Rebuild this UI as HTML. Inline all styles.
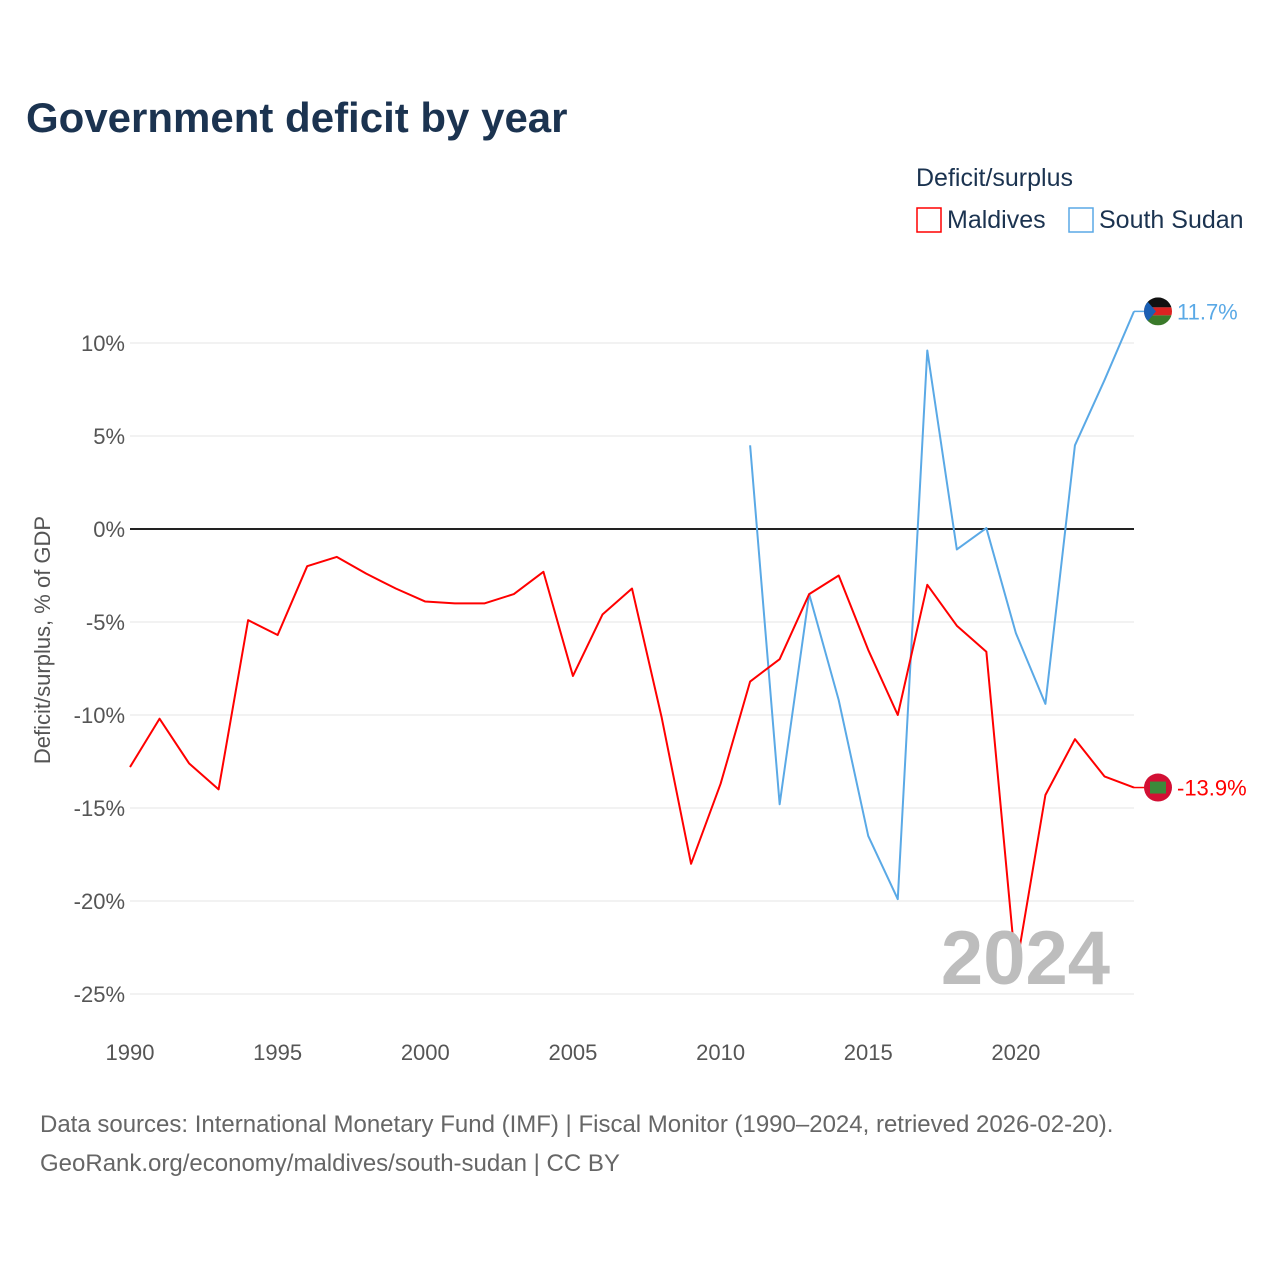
<!DOCTYPE html>
<html><head><meta charset="utf-8"><style>
body{margin:0;background:#fff;font-family:"Liberation Sans",sans-serif;}
svg text{font-family:"Liberation Sans",sans-serif;}
</style></head><body>
<svg width="1280" height="1280" xmlns="http://www.w3.org/2000/svg" id="chart">
<text x="26" y="132" font-size="42" font-weight="bold" fill="#1b3350">Government deficit by year</text>
<text x="916" y="186" font-size="25" fill="#1b3350">Deficit/surplus</text>
<g><rect x="917" y="208" width="24" height="24" fill="none" stroke="#ff0000" stroke-width="1.5"/><text x="947" y="228" font-size="25" fill="#1b3350">Maldives</text></g>
<g><rect x="1069" y="208" width="24" height="24" fill="none" stroke="#5aa9e6" stroke-width="1.5"/><text x="1099" y="228" font-size="25" fill="#1b3350">South Sudan</text></g>
<g id="grid"></g><g id="lines"></g>
<text x="1110" y="984" font-size="76" font-weight="bold" fill="#bdbdbd" text-anchor="end">2024</text>
<text transform="translate(50,640) rotate(-90)" font-size="22" fill="#555" text-anchor="middle">Deficit/surplus, % of GDP</text>
<text x="40" y="1132" font-size="24" fill="#666">Data sources: International Monetary Fund (IMF) | Fiscal Monitor (1990–2024, retrieved 2026-02-20).</text>
<text x="40" y="1171" font-size="24" fill="#666">GeoRank.org/economy/maldives/south-sudan | CC BY</text>
</svg>
<script>
const years=[];for(let y=1990;y<=2024;y++)years.push(y);
const maldives=[-12.8,-10.2,-12.6,-14.0,-4.9,-5.7,-2.0,-1.5,-2.4,-3.2,-3.9,-4.0,-4.0,-3.5,-2.3,-7.9,-4.6,-3.2,-10.1,-18.0,-13.7,-8.2,-7.0,-3.5,-2.5,-6.5,-10.0,-3.0,-5.2,-6.6,-23.7,-14.3,-11.3,-13.3,-13.9];
const ssYears=[2011,2012,2013,2014,2015,2016,2017,2018,2019,2020,2021,2022,2023,2024];
const southSudan=[4.5,-14.8,-3.5,-9.2,-16.5,-19.9,9.6,-1.1,0.05,-5.6,-9.4,4.5,8.0,11.7];
const yTicks=[10,5,0,-5,-10,-15,-20,-25];
const xTicks=[1990,1995,2000,2005,2010,2015,2020];
const NS="http://www.w3.org/2000/svg";
const X=y=>130+(y-1990)*(1134-130)/34;
const Y=v=>529-v*18.6;
const g=document.getElementById('grid'),L=document.getElementById('lines');
function mk(t,a,p){const e=document.createElementNS(NS,t);for(const k in a)e.setAttribute(k,a[k]);p.appendChild(e);return e;}
yTicks.forEach(v=>{
 const l=mk('line',{x1:130,x2:1134,y1:Y(v),y2:Y(v),stroke:v===0?'#222':'#e6e6e6','stroke-width':v===0?2:1},g);
 
 
 const t=mk('text',{x:125,y:Y(v)+8,'font-size':22,fill:'#555','text-anchor':'end'},g);t.textContent=v+'%';
 
 
});
xTicks.forEach(y=>{
 const t=mk('text',{x:X(y),y:1060,'font-size':22,fill:'#555','text-anchor':'middle'},g);t.textContent=y;
 
 
});
function line(xs,vs,c,name){
 const p=mk('polyline',{points:xs.map((x,i)=>X(x)+','+Y(vs[i])).join(' '),fill:'none',stroke:c,'stroke-width':2,'stroke-linejoin':'round'},L);
 
 
}
line(ssYears,southSudan,'#5aa9e6','south-sudan-line');
line(years,maldives,'#ff0000','maldives-line');
function endLabel(v,c,name,flag){
 const y=Y(v);
 mk('line',{x1:1134,x2:1146,y1:y,y2:y,stroke:c,'stroke-width':1.5},L);
 const cg=mk('g',{},L);
 
 
 if(flag==='ss'){
  mk('clipPath',{id:'cs'},cg);
  document.getElementById('cs').appendChild(document.createElementNS(NS,'circle')).setAttribute('r',14);
  document.querySelector('#cs circle').setAttribute('cx',1158);document.querySelector('#cs circle').setAttribute('cy',y);
  const fg=mk('g',{'clip-path':'url(#cs)'},cg);
  mk('rect',{x:1144,y:y-14,width:28,height:10,fill:'#111'},fg);
  mk('rect',{x:1144,y:y-4,width:28,height:8,fill:'#d22'},fg);
  mk('rect',{x:1144,y:y+4,width:28,height:10,fill:'#3a7a2a'},fg);
  mk('polygon',{points:`1144,${y-14} 1156,${y} 1144,${y+14}`,fill:'#1a5fb4'},fg);
 }else{
  mk('circle',{cx:1158,cy:y,r:14,fill:'#d21034'},cg);
  mk('rect',{x:1150,y:y-6,width:16,height:12,fill:'#3b8a3b'},cg);
 }
 const t=mk('text',{x:1177,y:y+8,'font-size':22,fill:c},L);t.textContent=v+'%';
 
 
}
endLabel(southSudan[southSudan.length-1],'#5aa9e6','south-sudan','ss');
endLabel(maldives[maldives.length-1],'#ff0000','maldives','mv');
</script>
</body></html>
